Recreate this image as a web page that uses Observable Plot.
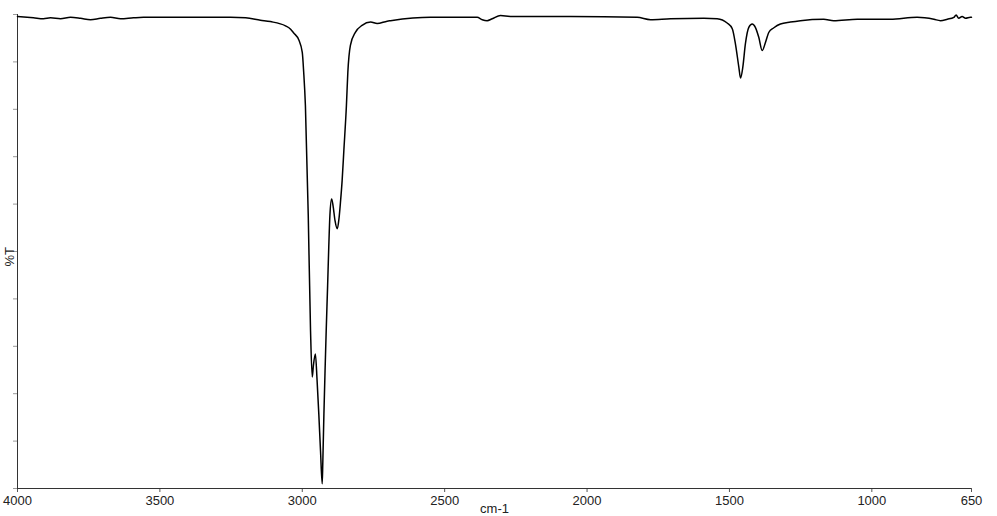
<!DOCTYPE html>
<html>
<head>
<meta charset="utf-8">
<script src="https://cdn.jsdelivr.net/npm/d3@7"></script>
<script src="https://cdn.jsdelivr.net/npm/@observablehq/plot@0.6"></script>
<style>
  html, body { margin: 0; padding: 0; background: #fff; }
  #chart svg { display: block; }
</style>
</head>
<body>
<div id="chart"></div>
<script>
const wavenumbers = [
  4000, 3943.8, 3908.7, 3884.1, 3849.0, 3813.9, 3778.8, 3743.7, 3708.5, 3673.4,
  3638.3, 3592.7, 3557.6, 3508.4, 3357.4, 3252, 3199, 3147, 3112, 3059,
  3041, 3030, 3012, 3000, 2995, 2989, 2979, 2971, 2965, 2961,
  2954, 2948, 2942, 2936, 2930, 2928, 2924, 2920, 2916, 2911,
  2907, 2903, 2897, 2892, 2885, 2877, 2871, 2866, 2860, 2854,
  2845, 2840, 2831, 2813, 2790, 2760, 2737, 2702, 2690, 2550,
  2386, 2368, 2351, 2333, 2304, 2269, 2058, 1824, 1777, 1707,
  1590, 1543, 1508, 1490, 1479, 1467, 1461, 1453, 1444, 1432,
  1420, 1409, 1397, 1385, 1373, 1362, 1344, 1321, 1286, 1251,
  1169, 1134, 1051, 935, 841, 782, 759, 735, 712, 704,
  695, 683, 671, 654, 650
];
const transmittance = [
  99.6, 99.3, 99.1, 99.3, 99.1, 99.4, 99.2, 98.9, 99.2, 99.4,
  99.1, 99.3, 99.4, 99.4, 99.4, 99.4, 99.3, 98.8, 98.5, 97.6,
  96.9, 96.1, 94.6, 92.0, 87.8, 80.8, 57.6, 33.3, 23.5, 25.9,
  28.4, 22.8, 15.8, 8.0, 1.0, 5.3, 15.8, 24.9, 33.3, 42.8,
  50.9, 57.6, 61.1, 59.7, 56.5, 54.8, 57.0, 60.3, 65.0, 71.3,
  80.8, 87.8, 93.5, 96.3, 97.7, 98.4, 98.1, 98.6, 98.7, 99.4,
  99.4, 98.9, 98.7, 99.1, 99.8, 99.6, 99.6, 99.4, 98.9, 99.1,
  99.2, 99.1, 98.2, 97.0, 93.8, 88.9, 86.6, 88.9, 93.8, 97.3,
  98.0, 97.3, 95.2, 92.4, 94.2, 96.2, 97.2, 98.0, 98.4, 98.7,
  99.0, 98.7, 99.0, 99.0, 99.4, 99.0, 98.7, 99.0, 99.4, 99.9,
  99.2, 99.6, 99.2, 99.4, 99.4
];
const xTicks = [4000, 3500, 3000, 2500, 2000, 1500, 1000, 650];
const yTicks = [0, 10, 20, 30, 40, 50, 60, 70, 80, 90, 100];
const xLabel = "cm-1";
const yLabel = "%T";

const spectrum = wavenumbers.map((w, i) => ({ wn: w, t: transmittance[i] }));

const chart = Plot.plot({
  width: 997,
  height: 516,
  marginLeft: 17,
  marginRight: 26,
  marginTop: 14,
  marginBottom: 28,
  style: { fontFamily: "'Liberation Sans', Arial, sans-serif", fontSize: "13px", background: "#fff" },
  x: { domain: [4000, 650], range: [17, 971] },
  y: { domain: [0, 100] },
  marks: [
    Plot.axisX({ ticks: xTicks, tickSize: 4, tickPadding: 3, label: null, tickFormat: d => String(d), fontSize: 13, fill: "#222", stroke: "#555" }),
    Plot.axisY({ ticks: yTicks, tickSize: 4, tickFormat: () => "", label: null, stroke: "#999" }),
    Plot.ruleY([0], { stroke: "#333", strokeWidth: 1 }),
    Plot.ruleX([4000], { stroke: "#333", strokeWidth: 1 }),
    Plot.line(spectrum, { x: "wn", y: "t", stroke: "#000", strokeWidth: 1.5, curve: "monotone-x" }),
    Plot.text([xLabel], { frameAnchor: "bottom", dy: 24, text: d => d, fontSize: 13, fill: "#222" }),
    Plot.text([yLabel], { frameAnchor: "left", dx: -8, dy: 15, rotate: -90, text: d => d, fontSize: 13, fill: "#222" })
  ]
});
document.getElementById("chart").appendChild(chart);
</script>
</body>
</html>
